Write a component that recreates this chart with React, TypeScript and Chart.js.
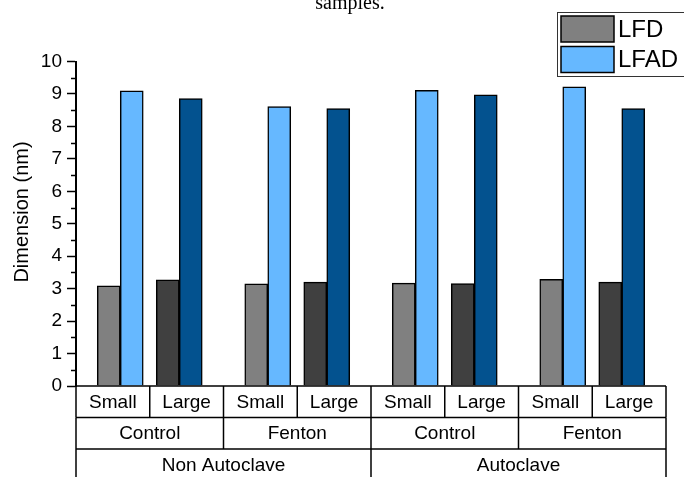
import React, { useEffect, useRef } from 'react';
import { Chart, registerables } from 'chart.js';

Chart.register(...registerables);

// ---- data ----
const sizes = ['Small', 'Large'];
const treatments = ['Control', 'Fenton'];
const processes = ['Non Autoclave', 'Autoclave'];
const seriesNames = ['LFD', 'LFAD'];
const lfd = [3.09, 3.27, 3.15, 3.2, 3.17, 3.16, 3.29, 3.2];
const lfad = [9.1, 8.86, 8.61, 8.55, 9.11, 8.97, 9.22, 8.55];
const yMin = 0;
const yMax = 10;
const yStep = 1;
const yTitle = 'Dimension (nm)';
const caption = 'samples.';

// ---- styles ----
const lfdColors = ['#808080', '#404040'];
const lfadColors = ['#66B8FF', '#03528F'];
const FONT = '"Liberation Sans", Arial, sans-serif';

// leaf categories (Small/Large within Control/Fenton within process)
type Leaf = { size: number; treat: number; proc: number; group: number };
const leaves: Leaf[] = [];
processes.forEach((_, p) =>
  treatments.forEach((_, t) =>
    sizes.forEach((_, s) => leaves.push({ size: s, treat: t, proc: p, group: p * treatments.length + t }))
  )
);
// Origin-like positions: pairs of bars, wider gap between treatment groups
const xPos = leaves.map((l) => 1 + l.group * 2.5 + l.size);

const overlay = {
  id: 'overlay',
  afterDraw(chart: any) {
    const ctx: CanvasRenderingContext2D = chart.ctx;
    const { left, right, bottom } = chart.chartArea;
    const ys = chart.scales.y;
    ctx.save();
    ctx.strokeStyle = '#000';
    ctx.fillStyle = '#000';

    // minor ticks
    ctx.lineWidth = 1.5;
    for (let v = yMin + yStep / 2; v < yMax; v += yStep) {
      const y = Math.round(ys.getPixelForValue(v)) + 0.5;
      ctx.beginPath();
      ctx.moveTo(left - 5, y);
      ctx.lineTo(left, y);
      ctx.stroke();
    }

    // table under the axis
    const n = leaves.length;
    const w = (right - left) / n;
    const rh = 31.5;
    const rowsY = [bottom, bottom + rh, bottom + 2 * rh, bottom + 3 * rh];
    ctx.lineWidth = 1.5;
    rowsY.forEach((y) => {
      ctx.beginPath();
      ctx.moveTo(left, y);
      ctx.lineTo(right, y);
      ctx.stroke();
    });
    const spans = [1, sizes.length, sizes.length * treatments.length];
    spans.forEach((span, r) => {
      for (let i = 0; i <= n; i += span) {
        const x = left + i * w;
        ctx.beginPath();
        ctx.moveTo(x, rowsY[r]);
        ctx.lineTo(x, rowsY[r + 1]);
        ctx.stroke();
      }
    });
    ctx.font = `19px ${FONT}`;
    ctx.textAlign = 'center';
    ctx.textBaseline = 'middle';
    leaves.forEach((l, i) => {
      ctx.fillText(sizes[l.size], left + (i + 0.5) * w, bottom + rh / 2 + 1);
    });
    for (let g = 0; g < processes.length * treatments.length; g++) {
      const t = g % treatments.length;
      ctx.fillText(treatments[t], left + (g + 0.5) * 2 * w, bottom + 1.5 * rh + 1);
    }
    processes.forEach((p, i) => {
      ctx.fillText(p, left + (i + 0.5) * 4 * w, bottom + 2.5 * rh + 1);
    });

    // y axis title
    ctx.save();
    ctx.translate(22, 212);
    ctx.rotate(-Math.PI / 2);
    ctx.font = `20px ${FONT}`;
    ctx.fillText(yTitle, 0, 0);
    ctx.restore();

    // caption fragment at top
    ctx.font = '20px "Liberation Serif", "Times New Roman", serif';
    ctx.textBaseline = 'alphabetic';
    ctx.fillText(caption, 350, 9);

    // legend
    ctx.lineWidth = 1;
    ctx.strokeStyle = '#333';
    ctx.strokeRect(557.5, 12.5, 140, 64);
    const sw = [lfdColors[0], lfadColors[0]];
    seriesNames.forEach((name, i) => {
      const y0 = 16 + i * 30.5;
      ctx.fillStyle = sw[i];
      ctx.fillRect(561, y0, 53, 26);
      ctx.strokeStyle = '#000';
      ctx.lineWidth = 1.5;
      ctx.strokeRect(561, y0, 53, 26);
      ctx.fillStyle = '#000';
      ctx.font = `24px ${FONT}`;
      ctx.textAlign = 'left';
      ctx.textBaseline = 'middle';
      ctx.fillText(name, 618, y0 + 14);
    });
    ctx.restore();
  },
};

export default function App() {
  const ref = useRef<HTMLCanvasElement>(null);
  useEffect(() => {
    if (!ref.current) return;
    const chart = new Chart(ref.current, {
      type: 'bar',
      data: {
        datasets: [
          {
            label: seriesNames[0],
            data: lfd.map((v, i) => ({ x: xPos[i], y: v })),
            backgroundColor: leaves.map((l) => lfdColors[l.size]),
            borderColor: '#000',
            borderWidth: 1.5,
          },
          {
            label: seriesNames[1],
            data: lfad.map((v, i) => ({ x: xPos[i], y: v })),
            backgroundColor: leaves.map((l) => lfadColors[l.size]),
            borderColor: '#000',
            borderWidth: 1.5,
          },
        ],
      },
      options: {
        responsive: false,
        animation: false,
        barThickness: 23,
        layout: { padding: { top: 61.5, right: 18, left: 0, bottom: 0 } },
        plugins: { legend: { display: false }, tooltip: { enabled: false } },
        scales: {
          x: {
            type: 'linear',
            min: 0.25,
            max: 10.25,
            offset: false,
            grid: { display: false },
            border: { display: false },
            ticks: { display: false },
            afterFit: (s: any) => {
              s.height = 91;
            },
          },
          y: {
            type: 'linear',
            min: yMin,
            max: yMax,
            ticks: {
              stepSize: yStep,
              color: '#000',
              padding: 5,
              font: { family: FONT, size: 19 },
            },
            grid: {
              drawOnChartArea: false,
              drawTicks: true,
              tickLength: 9,
              tickColor: '#000',
              tickWidth: 1.5,
            },
            border: { display: true, color: '#000', width: 2 },
            afterFit: (s: any) => {
              s.width = 76;
            },
          },
        },
      } as any,
      plugins: [overlay],
    });
    return () => chart.destroy();
  }, []);
  return (
    <div style={{ position: 'fixed', left: 0, top: 0, width: 684, height: 477, background: '#fff' }}>
      <canvas ref={ref} width={684} height={477} style={{ display: 'block' }} />
    </div>
  );
}
